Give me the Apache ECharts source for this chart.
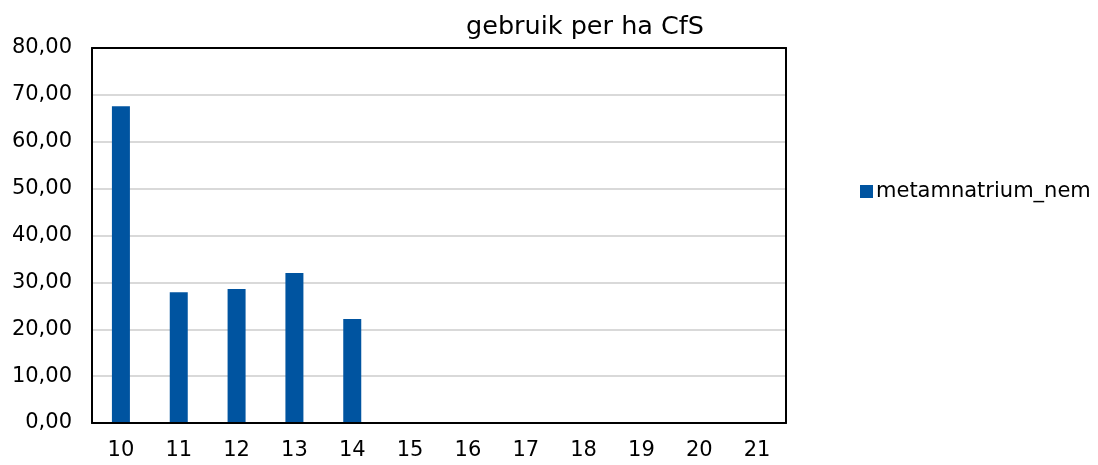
<!DOCTYPE html>
<html>
<head>
<meta charset="utf-8">
<script src="https://cdn.jsdelivr.net/npm/echarts@6/dist/echarts.min.js"></script>
<style>
  html, body { margin: 0; padding: 0; background: #fff; }
  #chart { width: 1098px; height: 465px; }
</style>
</head>
<body>
<div id="chart"></div>
<script>
const categories = ['10', '11', '12', '13', '14', '15', '16', '17', '18', '19', '20', '21'];
const metamValues = [67.6, 27.9, 28.6, 32.0, 22.2, null, null, null, null, null, null, null];
const seriesName = 'metamnatrium_nem';

const chart = echarts.init(document.getElementById('chart'));
const font = 'Verdana, "DejaVu Sans", sans-serif';

// frame line used for the top and right edges of the plot box
const frame = { show: true, onZero: false, lineStyle: { color: '#000', width: 2 } };

chart.setOption({
    animation: false,
    title: {
        text: 'gebruik per ha CfS',
        left: 580,
        textAlign: 'center',
        top: 9,
        textStyle: { fontFamily: font, fontSize: 25.5, fontWeight: 'normal', color: '#000' }
    },
    legend: {
        orient: 'vertical',
        left: 855,
        top: 176,
        itemWidth: 13,
        itemHeight: 13,
        itemGap: 4,
        icon: 'rect',
        textStyle: { fontFamily: font, fontSize: 21, color: '#000', padding: [0, 0, 0, -2] },
        data: [seriesName]
    },
    grid: {
        left: 92,
        top: 48,
        width: 694,
        height: 375,
        containLabel: false
    },
    xAxis: [{
        type: 'category',
        data: categories,
        z: 5,
        axisLine: { lineStyle: { color: '#000', width: 2 } },
        axisTick: { show: false },
        axisLabel: { fontFamily: font, fontSize: 21, color: '#000', margin: 17 }
    }, {
        type: 'category',
        position: 'top',
        data: categories,
        z: 5,
        axisLine: frame,
        axisTick: { show: false },
        axisLabel: { show: false }
    }],
    yAxis: [{
        type: 'value',
        min: 0,
        max: 80,
        interval: 10,
        z: 1,
        axisLine: { show: true, lineStyle: { color: '#000', width: 2 } },
        axisTick: { show: false },
        splitLine: { lineStyle: { color: '#d9d9d9', width: 2 } },
        axisLabel: {
            fontFamily: font, fontSize: 21, color: '#000', margin: 20,
            formatter: v => v.toFixed(2).replace('.', ',')
        }
    }, {
        type: 'value',
        position: 'right',
        min: 0,
        max: 80,
        interval: 10,
        z: 5,
        axisLine: frame,
        axisTick: { show: false },
        splitLine: { show: false },
        axisLabel: { show: false }
    }],
    series: [{
        name: seriesName,
        type: 'bar',
        data: metamValues,
        barWidth: 18,
        itemStyle: { color: '#0054a0' }
    }]
});
</script>
</body>
</html>
